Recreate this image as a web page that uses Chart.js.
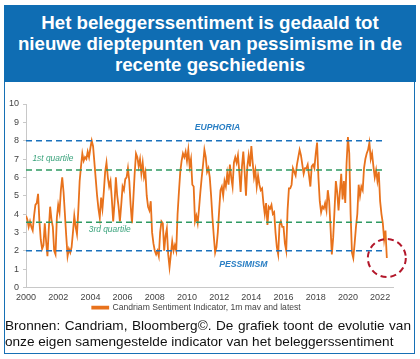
<!DOCTYPE html>
<html>
<head>
<meta charset="utf-8">
<script src="https://cdn.jsdelivr.net/npm/chart.js@4.4.1/dist/chart.umd.min.js"></script>
<style>
  html, body { margin: 0; padding: 0; background: #fff; }
  body { width: 420px; height: 359px; position: relative; overflow: hidden; font-family: "Liberation Sans", Arial, sans-serif; }
  .frame { position: absolute; left: 4px; top: 5px; width: 409px; height: 347px; border: 1.5px solid #1670b5; }
  .title { position: absolute; left: 4px; top: 5px; width: 412px; height: 77px; background: #0f6db3; color: #fff;
           font-weight: bold; font-size: 18.7px; line-height: 21px; text-align: center; box-sizing: border-box; padding-top: 7px; }
  .chart-box { position: absolute; left: 0; top: 86px; width: 420px; height: 238px; }
  .source { position: absolute; left: 5px; top: 318px; width: 406px; font-size: 13.6px; line-height: 16px; color: #111; white-space: nowrap; }
  .source .l1 { text-align: justify; text-align-last: justify; white-space: normal; }
</style>
</head>
<body>
<div class="frame"></div>
<div class="title">Het beleggerssentiment is gedaald tot<br>nieuwe dieptepunten van pessimisme in de<br>recente geschiedenis</div>
<div class="chart-box"><canvas id="sentimentChart"></canvas></div>
<div class="source">
  <div class="l1">Bronnen: Candriam, Bloomberg©. De grafiek toont de evolutie van</div>
  <div>onze eigen samengestelde indicator van het beleggerssentiment</div>
</div>

<script>
// monthly readings, Jan 2000 onwards
const startYear = 2000;
const sentiment = [
  3.9, 3.7, 3.3, 3.6, 3.3, 3.1, 3.9, 4.5, 4.6, 5.1, 3.6, 2.6,
  2.1, 2.3, 3.5, 2.5, 1.7, 3.2, 4.4, 3.7, 3.3, 2.0, 1.8, 3.8,
  4.5, 4.1, 5.3, 6.0, 5.2, 4.0, 2.8, 1.7, 2.1, 1.9, 2.2, 3.0,
  3.9, 3.3, 2.9, 4.2, 5.8, 6.6, 7.3, 6.9, 7.1, 7.0, 7.4, 7.1,
  7.6, 8.0, 7.7, 6.8, 5.9, 5.0, 4.3, 3.8, 4.9, 4.3, 5.2, 6.3,
  6.8, 6.0, 5.5, 5.8, 4.8, 3.6, 4.6, 6.0, 5.0, 4.4, 3.6, 4.5,
  5.5, 5.3, 5.9, 6.0, 6.5, 5.8, 4.5, 3.5, 4.8, 6.2, 7.3, 7.1,
  6.6, 7.0, 6.2, 6.8, 6.0, 6.3, 5.0, 4.4, 4.2, 4.7, 3.0, 2.4,
  2.0, 1.8, 2.0, 1.7, 3.0, 3.6, 3.5, 2.0, 2.8, 3.2, 1.8, 1.1,
  1.8, 2.5, 2.0, 2.3, 2.0, 4.0, 5.2, 6.3, 6.9, 7.3, 7.1, 7.4,
  6.9, 7.5, 6.6, 7.0, 5.6, 5.5, 3.6, 3.9, 3.5, 4.3, 5.2, 6.0,
  6.7, 7.5, 7.1, 6.3, 6.5, 6.0, 5.0, 3.8, 2.8, 1.9, 2.2, 3.0,
  4.2, 5.3, 5.5, 5.0, 5.8, 5.5, 6.2, 5.6, 6.7, 6.0, 5.5, 6.8,
  7.1, 6.8, 7.2, 6.3, 5.2, 6.6, 7.4, 6.3, 5.0, 6.6, 7.2, 6.6,
  7.7, 6.8, 6.0, 6.4, 5.5, 6.1, 5.6, 5.3, 5.4, 4.6, 4.0, 4.6,
  3.4, 4.4, 4.3, 4.5, 4.0, 4.1, 3.0, 2.2, 1.8, 3.4, 3.6, 3.3,
  3.3, 2.4, 2.0, 4.2, 5.4, 5.4, 5.6, 6.5, 6.3, 6.1, 6.7, 7.1,
  7.5, 7.2, 6.7, 6.2, 6.5, 6.5, 6.7, 6.1, 5.5, 6.6, 6.7, 6.5,
  7.3, 7.9, 6.0, 4.7, 4.1, 4.4, 4.3, 4.6, 4.2, 5.3, 4.7, 3.3,
  1.8, 2.7, 4.2, 5.8, 5.2, 4.2, 5.2, 6.2, 4.8, 5.8, 4.6, 6.8,
  8.2, 7.3, 4.0, 1.9, 1.6, 2.4, 3.3, 4.0, 5.6, 5.0, 5.5, 5.3,
  6.5, 7.0, 7.3, 7.5, 7.9, 7.0, 7.3, 6.6, 6.0, 6.4, 5.8, 6.3,
  4.7, 4.0, 3.5, 2.6, 3.1, 1.6
];

const levelValues = [8, 6.4, 3.55, 2];
const levelNames = ['EUPHORIA', '1st quartile', '3rd quartile', 'PESSIMISM'];
const levelRange = [2000, 2022.25];
const yTicks = [0, 1, 2, 3, 4, 5, 6, 7, 8, 9, 10];
const xTicks = [2000, 2002, 2004, 2006, 2008, 2010, 2012, 2014, 2016, 2018, 2020, 2022];

const ORANGE = '#e8721c';
const BLUE = '#1b72bd';
const GREEN = '#2f9a62';

const levelColors = [BLUE, GREEN, GREEN, BLUE];

// label spots in value space (x year, y value), alignment, font
const labelStyle = [
  { x: 2011.9, y: 8.72, align: 'center', font: 'italic bold 8.6px "Liberation Sans", Arial', color: '#2a7fc4' },
  { x: 2000.4, y: 7.0, align: 'left', font: 'italic 8.4px "Liberation Sans", Arial', color: '#3aa37c' },
  { x: 2003.9, y: 3.14, align: 'left', font: 'italic 8.4px "Liberation Sans", Arial', color: '#3aa37c' },
  { x: 2013.5, y: 1.27, align: 'center', font: 'italic bold 8.7px "Liberation Sans", Arial', color: '#2a7fc4' }
];

const extras = {
  id: 'extras',
  afterDatasetsDraw(chart) {
    const { ctx, scales: { x, y } } = chart;
    ctx.save();
    ctx.textBaseline = 'middle';
    levelNames.forEach((name, i) => {
      const s = labelStyle[i];
      ctx.font = s.font;
      ctx.fillStyle = s.color;
      ctx.textAlign = s.align;
      ctx.fillText(name, x.getPixelForValue(s.x), y.getPixelForValue(s.y));
    });
    // red dashed ring round the latest reading
    const meta = chart.getDatasetMeta(0);
    const last = meta.data[meta.data.length - 1];
    ctx.beginPath();
    ctx.setLineDash([6, 4]);
    ctx.lineWidth = 2;
    ctx.strokeStyle = '#b3172a';
    ctx.arc(last.x, last.y, 19, 0, Math.PI * 2);
    ctx.stroke();
    ctx.restore();
  }
};

const mainData = sentiment.map((v, i) => ({ x: startYear + i / 12, y: v }));

const levelSets = levelValues.map((v, i) => ({
  label: levelNames[i],
  data: levelRange.map(yr => ({ x: yr, y: v })),
  borderColor: levelColors[i],
  borderWidth: 1.6,
  borderDash: [6, 4],
  pointRadius: 0,
  order: 0
}));

const tickFont = { family: '"Liberation Sans", Arial', size: 9 };

new Chart(document.getElementById('sentimentChart'), {
  type: 'line',
  data: {
    datasets: [{
      label: 'Candriam Sentiment Indicator, 1m mav and latest',
      data: mainData,
      borderColor: ORANGE,
      backgroundColor: ORANGE,
      borderWidth: 1.8,
      pointRadius: 0,
      tension: 0,
      order: 1
    }, ...levelSets]
  },
  options: {
    responsive: true,
    maintainAspectRatio: false,
    animation: false,
    layout: { padding: { top: 18, right: 27, left: 0, bottom: 2 } },
    plugins: {
      legend: {
        position: 'bottom',
        labels: {
          filter: item => item.datasetIndex === 0,
          color: '#444',
          font: { family: '"Liberation Sans", Arial', size: 8.6 },
          boxWidth: 16,
          boxHeight: 2,
          padding: 0
        }
      },
      tooltip: { enabled: false }
    },
    scales: {
      x: {
        type: 'linear',
        min: 2000,
        max: 2022.8,
        afterBuildTicks: s => { s.ticks = xTicks.map(v => ({ value: v })); },
        afterFit: s => { s.height = 16; },
        ticks: { color: '#444', font: tickFont, maxRotation: 0, padding: 5, callback: v => String(v) },
        grid: { display: false, drawTicks: false },
        border: { color: '#c8c8c8', width: 1 }
      },
      y: {
        min: 0,
        max: 10,
        afterBuildTicks: s => { s.ticks = yTicks.map(v => ({ value: v })); },
        afterFit: s => { s.width = 26; },
        ticks: { color: '#444', font: tickFont, padding: 4 },
        grid: { drawOnChartArea: false, drawTicks: true, tickLength: 3, color: '#c8c8c8' },
        border: { color: '#c8c8c8', width: 1 }
      }
    }
  },
  plugins: [extras]
});
</script>
</body>
</html>
